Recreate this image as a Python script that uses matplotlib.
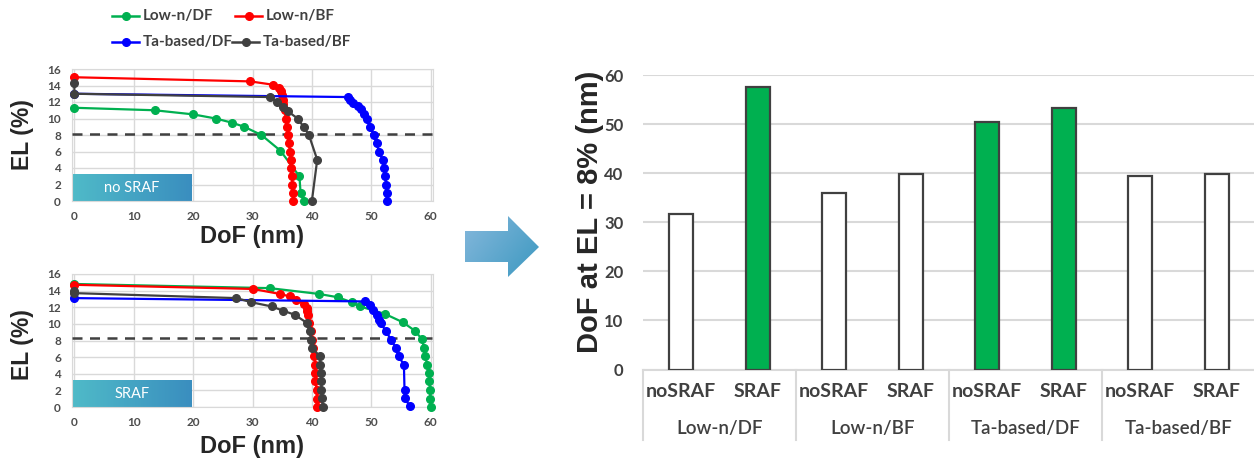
import numpy as np
import matplotlib
matplotlib.use("Agg")
import matplotlib.pyplot as plt
from matplotlib.lines import Line2D
from matplotlib.patches import Polygon
from matplotlib.colors import LinearSegmentedColormap

# ---- EL vs DoF curves, no SRAF ----
nosraf_lowdf_dof = [0, 13.5, 20.0, 23.8, 26.5, 28.6, 31.5, 34.7, 37.9, 38.1, 38.7]
nosraf_lowdf_el = [11.3, 11.0, 10.5, 10.0, 9.5, 9.0, 8.0, 6.1, 3.0, 1.0, 0]

nosraf_lowbf_dof = [0, 29.6, 33.4, 34.4, 34.8, 35.0, 35.1, 35.2, 35.4, 35.6,
                    35.8, 36.0, 36.1, 36.3, 36.4, 36.5, 36.6, 36.7, 36.8, 36.8]
nosraf_lowbf_el = [15.0, 14.5, 14.1, 13.7, 13.3, 12.8, 12.3, 11.8, 11.0, 10.0,
                   9.0, 8.0, 7.0, 6.0, 5.0, 4.0, 3.0, 2.0, 1.0, 0]

nosraf_tadf_dof = [0, 46.0, 46.5, 47.0, 47.7, 48.2, 48.8, 49.2, 49.8, 50.4,
                   50.9, 51.3, 51.9, 52.2, 52.3, 52.5, 52.6, 52.6]
nosraf_tadf_el = [13.0, 12.6, 12.3, 11.9, 11.5, 11.1, 10.5, 10.0, 9.0, 8.0,
                  7.0, 6.0, 5.0, 4.0, 3.0, 2.0, 1.0, 0]

nosraf_tabf_dof = [0, 0, 32.9, 34.1, 35.1, 35.9, 37.6, 38.6, 39.5, 40.9, 40.0]
nosraf_tabf_el = [14.3, 13.0, 12.6, 12.0, 11.4, 10.9, 10.0, 9.0, 8.0, 5.0, 0]

# ---- EL vs DoF curves, with SRAF ----
sraf_lowdf_dof = [0, 32.9, 41.2, 44.4, 46.7, 48.1, 52.3, 55.3, 57.3, 58.5,
                  58.9, 59.1, 59.4, 59.7, 59.8, 59.9, 59.9, 60.0]
sraf_lowdf_el = [14.8, 14.3, 13.6, 13.2, 12.6, 12.1, 11.2, 10.2, 9.2, 8.2,
                 7.1, 6.1, 5.1, 4.1, 3.1, 2.1, 1.0, 0]

sraf_lowbf_dof = [0, 30.1, 34.6, 36.3, 37.4, 38.7, 39.1, 39.2, 39.4, 39.5,
                  39.8, 40.0, 40.2, 40.4, 40.5, 40.6, 40.6, 40.8, 40.8, 40.8]
sraf_lowbf_el = [14.7, 14.2, 13.6, 13.3, 12.9, 12.4, 11.9, 11.5, 11.1, 10.1,
                 9.1, 8.1, 7.1, 6.1, 5.1, 4.1, 3.1, 2.1, 1.0, 0]

sraf_tadf_dof = [0, 48.9, 49.8, 50.3, 50.9, 51.3, 51.7, 52.4, 53.4, 54.1,
                 54.6, 55.5, 55.6, 55.6, 56.5]
sraf_tadf_el = [13.1, 12.7, 12.3, 11.7, 11.1, 10.5, 10.1, 9.1, 8.1, 7.1,
                6.1, 5.1, 2.1, 1.1, 0.1]

sraf_tabf_dof = [0, 0, 27.3, 29.8, 33.2, 35.1, 37.1, 39.2, 39.6, 39.9,
                 40.1, 41.3, 41.4, 41.5, 41.6, 41.6, 41.7, 41.8]
sraf_tabf_el = [14.0, 13.7, 13.1, 12.6, 12.1, 11.6, 11.1, 10.1, 9.1, 8.1,
                7.1, 6.1, 5.1, 4.1, 3.1, 2.1, 1.1, 0]

el_threshold_nosraf = 8.1
el_threshold_sraf = 8.3

series_names = ["Low-n/DF", "Low-n/BF", "Ta-based/DF", "Ta-based/BF"]
series_colors = ["#00b050", "#ff0000", "#0000ff", "#404040"]

# ---- DoF at EL = 8% bar chart ----
groups = ["Low-n/DF", "Low-n/BF", "Ta-based/DF", "Ta-based/BF"]
conditions = ["noSRAF", "SRAF"]
dof_at_el8 = [31.6, 57.6, 35.9, 39.8, 50.4, 53.2, 39.4, 39.8]
bar_colors = ["white", "#00b050", "white", "white",
              "#00b050", "#00b050", "white", "white"]

TEXT = "#404040"
GRID = "#d9d9d9"
W, H = 1254, 463


def px_axes(left, top, right, bottom):
    return [left / W, 1 - bottom / H, (right - left) / W, (bottom - top) / H]


def gradient_box(ax, extent, c0, c1, label):
    cmap = LinearSegmentedColormap.from_list("g", [c0, c1])
    grad = np.linspace(0, 1, 256).reshape(1, -1)
    ax.imshow(grad, cmap=cmap, extent=extent, aspect="auto", zorder=2)
    ax.text((extent[0] + extent[1]) / 2, (extent[2] + extent[3]) / 2, label,
            color="white", fontsize=10.5, fontfamily="Lato",
            ha="center", va="center", zorder=3)


def draw_el_panel(ax, curves, threshold, box_label):
    for (x, y), color in zip(curves, series_colors):
        ax.plot(x, y, "-o", color=color, lw=1.6, ms=5.5, zorder=4, clip_on=False)
    ax.axhline(threshold, color=TEXT, ls=(0, (4, 3)), lw=1.8, zorder=3)
    gradient_box(ax, [-0.3, 19.7, 0, 3.2], "#4fbac8", "#3a8ebf", box_label)
    ax.set_xlim(-0.4, 60.4)
    ax.set_ylim(0, 16)
    ax.set_xticks(range(0, 61, 10))
    ax.set_yticks(range(0, 17, 2))
    ax.grid(color=GRID, lw=1)
    ax.set_axisbelow(True)
    for s in ax.spines.values():
        s.set_color(GRID)
    ax.tick_params(length=0, labelsize=8.5, labelcolor="#4d4d4d")
    ax.tick_params(axis="x", pad=7)
    ax.tick_params(axis="y", pad=8)
    for lab in ax.get_xticklabels() + ax.get_yticklabels():
        lab.set_fontfamily("Lato")
        lab.set_fontweight("bold")


fig = plt.figure(figsize=(W / 100, H / 100), dpi=100)

# overlay for legend and arrow
ov = fig.add_axes([0, 0, 1, 1])
ov.axis("off")

ax_top = fig.add_axes(px_axes(72, 69, 433, 201))
draw_el_panel(ax_top,
              [(nosraf_lowdf_dof, nosraf_lowdf_el), (nosraf_lowbf_dof, nosraf_lowbf_el),
               (nosraf_tadf_dof, nosraf_tadf_el), (nosraf_tabf_dof, nosraf_tabf_el)],
              el_threshold_nosraf, "no SRAF")

ax_bot = fig.add_axes(px_axes(72, 274, 433, 407))
draw_el_panel(ax_bot,
              [(sraf_lowdf_dof, sraf_lowdf_el), (sraf_lowbf_dof, sraf_lowbf_el),
               (sraf_tadf_dof, sraf_tadf_el), (sraf_tabf_dof, sraf_tabf_el)],
              el_threshold_sraf, "SRAF")

for yc, xl in [(135, 237), (345, 447)]:
    fig.text(22 / W, 1 - yc / H, "EL (%)", rotation=90, ha="center", va="center",
             fontsize=16.5, fontweight="bold", fontfamily="Liberation Sans", color="#262626")
    fig.text(252 / W, 1 - xl / H, "DoF (nm)", ha="center", va="center",
             fontsize=17, fontweight="bold", fontfamily="Liberation Sans", color="#262626")

# legend (two rows)
legend_pos = [(112, 16), (235, 16), (112, 42), (232, 42)]
for (lx, ly), name, color in zip(legend_pos, series_names, series_colors):
    ov.add_line(Line2D([lx, lx + 13.5, lx + 27], [ly, ly, ly], color=color, lw=1.8,
                       marker="o", markevery=[1], ms=5.5))
    ov.text(lx + 31, ly, name, ha="left", va="center", fontsize=11,
            fontweight="bold", fontfamily="Lato", color=TEXT)

# arrow with gradient
arrow_pts = [(465, 231), (508, 231), (508, 216), (539, 247),
             (508, 277), (508, 262), (465, 262)]
arrow = Polygon(arrow_pts, closed=True, facecolor="none", edgecolor="none")
ov.add_patch(arrow)
gx, gy = np.meshgrid(np.linspace(0, 1, 128), np.linspace(0, 1, 128))
acmap = LinearSegmentedColormap.from_list("a", ["#86b8dc", "#3b98c0"])
im = ov.imshow(0.6 * gx + 0.4 * gy, cmap=acmap, extent=[465, 540, 278, 215],
               aspect="auto", zorder=1)
im.set_clip_path(arrow)
ov.set_xlim(0, W)
ov.set_ylim(H, 0)

# bar chart
axb = fig.add_axes(px_axes(643, 75, 1255, 369.5))
xpos = np.arange(len(dof_at_el8))
axb.bar(xpos, dof_at_el8, width=0.315, color=bar_colors, edgecolor=TEXT, lw=1.6, zorder=3)
axb.set_xlim(-0.5, len(dof_at_el8) - 0.5)
axb.set_ylim(0, 60)
axb.set_yticks(range(0, 61, 10))
axb.yaxis.grid(True, color=GRID, lw=1.5)
axb.set_axisbelow(True)
for side in ["top", "right", "left"]:
    axb.spines[side].set_visible(False)
axb.spines["bottom"].set_color(GRID)
axb.spines["bottom"].set_linewidth(1.5)
axb.set_xticks([])
axb.tick_params(axis="y", length=0, pad=14, labelsize=12, labelcolor=TEXT)
for lab in axb.get_yticklabels():
    lab.set_fontfamily("Lato")
    lab.set_fontweight("bold")

tr = axb.get_xaxis_transform()
for i, x in enumerate(xpos):
    axb.text(x, -0.075, conditions[i % len(conditions)], transform=tr, ha="center",
             va="center", fontsize=14, fontweight="bold", fontfamily="Lato",
             color=TEXT, clip_on=False)
for g, name in enumerate(groups):
    gx0 = g * len(conditions) - 0.5
    axb.text(gx0 + len(conditions) / 2, -0.199, name, transform=tr, ha="center",
             va="center", fontsize=13.5, fontweight="semibold", fontfamily="Lato",
             color=TEXT, clip_on=False)
    axb.add_line(Line2D([gx0, gx0], [0, -0.24], transform=tr, color=GRID,
                        lw=1.5, clip_on=False))

fig.text(590 / W, 1 - 212 / H, "DoF at EL = 8% (nm)", rotation=90, ha="center",
         va="center", fontsize=21, fontweight="bold", fontfamily="Liberation Sans",
         color="#262626")

fig.savefig("out.png", dpi=100)
